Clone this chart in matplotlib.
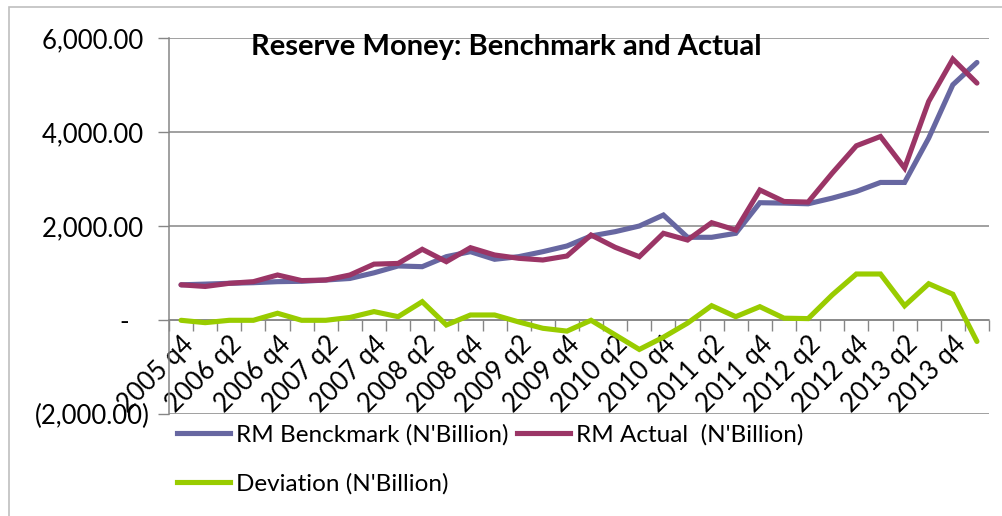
import matplotlib
matplotlib.use("Agg")
import matplotlib.pyplot as plt
from matplotlib.lines import Line2D
from matplotlib.patches import Rectangle
from matplotlib.ticker import FixedLocator, FuncFormatter

# quarters 2005 q4 .. 2014 q1
quarters = ["2005 q4"] + [f"{y} q{q}" for y in range(2006, 2014) for q in range(1, 5)] + ["2014 q1"]

rm_benchmark = [755, 770, 787, 800, 822, 830, 857, 890, 1010, 1156, 1141, 1354,
                1460, 1298, 1354, 1460, 1581, 1794, 1886, 2006, 2240, 1766, 1766,
                1851, 2502, 2494, 2479, 2600, 2741, 2933, 2933, 3877, 5011, 5486]
rm_actual = [755, 720, 787, 822, 964, 845, 857, 964, 1195, 1210, 1511, 1247,
             1545, 1390, 1319, 1283, 1368, 1815, 1553, 1353, 1851, 1708, 2077,
             1921, 2772, 2528, 2515, 3132, 3713, 3911, 3239, 4657, 5558, 5047]
deviation = [0, -50, 0, 0, 150, 0, 0, 60, 185, 77, 396, -100, 113, 113, -35,
             -170, -230, 0, -310, -620, -360, -60, 311, 77, 290, 45, 36, 540,
             985, 985, 309, 778, 555, -450]

series_labels = ["RM Benckmark (N'Billion)", "RM Actual  (N'Billion)", "Deviation (N'Billion)"]
colors = ["#6767A1", "#9B3566", "#99CC00"]

plt.rcParams['font.family'] = ['Lato', 'DejaVu Sans']

fig = plt.figure(figsize=(10.02, 5.16), dpi=100)
W, H = 1002, 516
ax = fig.add_axes([169 / W, 1 - 414.3 / H, (989 - 169) / W, (414.3 - 38.3) / H])

# outer chart border
fig.patches.append(Rectangle((9 / W, -0.1), 1.2, 1 - 7 / H + 0.1, transform=fig.transFigure,
                             fill=False, edgecolor="#BFBFBF", linewidth=1.2))

x = list(range(len(quarters)))
for vals, c in zip([rm_benchmark, rm_actual, deviation], colors):
    ax.plot(x, vals, color=c, linewidth=3.7, solid_joinstyle='miter', solid_capstyle='round', zorder=3)

ax.set_xlim(-0.5, len(quarters) - 0.5)
ax.set_ylim(-2000, 6000)

# y axis, accounting style labels
ax.set_yticks([-2000, 0, 2000, 4000, 6000])

def acct(v, pos):
    if v == 0:
        return "-   "
    if v < 0:
        return f"({abs(v):,.2f})"
    return f"{v:,.2f} "

ax.yaxis.set_major_formatter(FuncFormatter(acct))
ax.tick_params(axis='y', length=8, width=1, color="#868686", labelsize=18.5, pad=6)
ax.grid(axis='y', color="#868686", linewidth=1.1, zorder=0)

# x axis crosses at zero
for s in ['top', 'right']:
    ax.spines[s].set_visible(False)
ax.spines['left'].set_color("#868686")
ax.spines['left'].set_linewidth(1.1)
ax.spines['bottom'].set_position(('data', 0))
ax.spines['bottom'].set_color("#868686")
ax.spines['bottom'].set_linewidth(1.1)
ax.xaxis.set_minor_locator(FixedLocator([i - 0.5 for i in range(len(quarters) + 1)]))
ax.set_xticks(x[::2])
ax.set_xticklabels(quarters[::2], rotation=45, ha='right', va='top', rotation_mode='anchor')
ax.tick_params(axis='x', which='major', length=0, labelsize=18.5, pad=8)
ax.tick_params(axis='x', which='minor', length=8, width=1, color="#868686")

ax.text(0.1, 0.977, "Reserve Money: Benchmark and Actual", transform=ax.transAxes,
        fontsize=21, fontweight='bold', ha='left', va='center')

handles = [Line2D([], [], color=colors[0], linewidth=3.7),
           Line2D([], [], color=colors[2], linewidth=3.7),
           Line2D([], [], color=colors[1], linewidth=3.7)]
labels = [series_labels[0], series_labels[2], series_labels[1]]
fig.legend(handles, labels, ncol=2, loc='upper left', bbox_to_anchor=(177 / W, 1 - 424 / H),
           frameon=False, fontsize=17.5, handlelength=2.2, handletextpad=0.22,
           columnspacing=0.35, labelspacing=1.15, borderaxespad=0, borderpad=0)

fig.savefig("out.png", dpi=100)
